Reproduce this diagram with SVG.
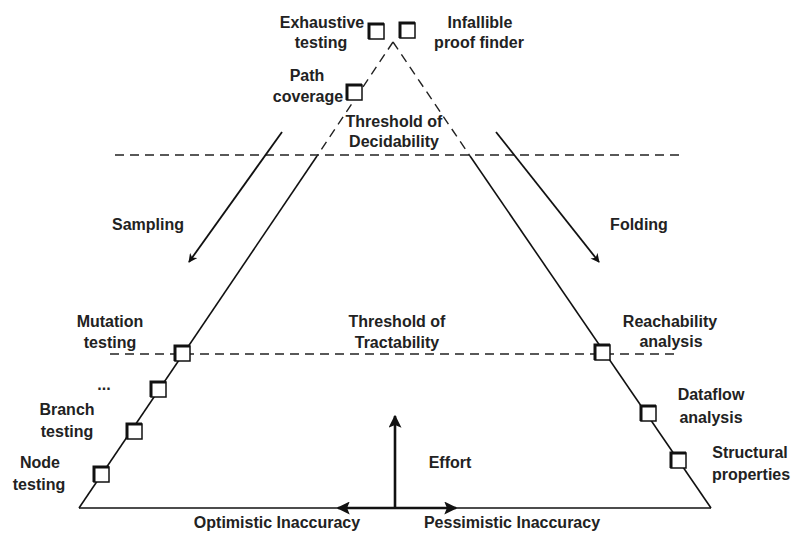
<svg xmlns="http://www.w3.org/2000/svg" width="791" height="536" viewBox="0 0 791 536">
<style>
text{font-family:"Liberation Sans",Arial,sans-serif;font-size:16px;font-weight:bold;fill:#222;text-anchor:middle}
.ln{stroke:#111;stroke-width:1.6;fill:none}
.ds{stroke:#222;stroke-width:1.4;fill:none;stroke-dasharray:9 6}
.bx{fill:#fff;stroke:#111;stroke-width:1.5}
.bt{fill:none;stroke:#111;stroke-width:3}
.ar{stroke:#111;stroke-width:1.8;fill:none}
.th{stroke:#111;stroke-width:2.6;fill:none}
</style>
<defs>
<marker id="ah" viewBox="0 0 10 10" refX="9" refY="5" markerWidth="9" markerHeight="9" markerUnits="userSpaceOnUse" orient="auto">
<path d="M0,0 L10,5 L0,10 L3,5 Z" fill="#111"/>
</marker>
<marker id="ah2" viewBox="0 0 10 10" refX="9" refY="5" markerWidth="5" markerHeight="5" orient="auto">
<path d="M0,0 L10,5 L0,10 L2,5 Z" fill="#111"/>
</marker>
<symbol id="sq" viewBox="0 0 18 18" width="18" height="18">
<rect class="bx" x="2" y="2" width="15" height="15"/>
<path class="bt" d="M2,17 V2 H17"/>
</symbol>
</defs>
<rect width="791" height="536" fill="#fff"/>
<g id="connectors">
<path class="ds" d="M393,42 L317,156"/>
<path class="ln" d="M317,156 L79,508"/>
<path class="ds" d="M393,42 L470,156"/>
<path class="ln" d="M470,156 L711,508"/>
<path class="ln" d="M79,508 L711,508"/>
<path class="ds" d="M115,155 L683,155"/>
<path class="ds" d="M110,354 L680,354"/>
<path class="ar" d="M282,132 L189,262" marker-end="url(#ah)"/>
<path class="ar" d="M496,132 L599,262" marker-end="url(#ah)"/>
<path class="th" d="M395,508 L395,416" marker-end="url(#ah2)"/>
<path class="th" d="M395,508 L338,508" marker-end="url(#ah2)"/>
<path class="th" d="M395,508 L456,508" marker-end="url(#ah2)"/>
</g>
<g id="exhaustive"><use href="#sq" x="367" y="22"/><text x="322" y="28">Exhaustive</text><text x="321" y="48">testing</text></g>
<g id="infallible"><use href="#sq" x="398" y="21"/><text x="480" y="28">Infallible</text><text x="479" y="48">proof finder</text></g>
<g id="path-coverage"><use href="#sq" x="345" y="83"/><text x="307" y="81">Path</text><text x="308" y="102">coverage</text></g>
<g id="decidability"><text x="394" y="127">Threshold of</text><text x="394" y="147">Decidability</text></g>
<g id="sampling"><text x="148" y="230">Sampling</text></g>
<g id="folding"><text x="639" y="230">Folding</text></g>
<g id="tractability"><text x="397" y="327">Threshold of</text><text x="397" y="348">Tractability</text></g>
<g id="mutation"><use href="#sq" x="173" y="344"/><text x="110" y="327">Mutation</text><text x="110" y="348">testing</text></g>
<g id="ellipsis"><use href="#sq" x="149" y="380"/><text x="104" y="390">...</text></g>
<g id="branch"><use href="#sq" x="125" y="422"/><text x="67" y="415">Branch</text><text x="67" y="437">testing</text></g>
<g id="node"><use href="#sq" x="92" y="465"/><text x="40" y="468">Node</text><text x="39" y="490">testing</text></g>
<g id="reachability"><use href="#sq" x="593" y="343"/><text x="670" y="327">Reachability</text><text x="671" y="347">analysis</text></g>
<g id="dataflow"><use href="#sq" x="639" y="404"/><text x="711" y="400">Dataflow</text><text x="711" y="423">analysis</text></g>
<g id="structural"><use href="#sq" x="669" y="451"/><text x="750" y="458">Structural</text><text x="751" y="480">properties</text></g>
<g id="effort"><text x="450" y="468">Effort</text></g>
<g id="optimistic"><text x="277" y="528">Optimistic Inaccuracy</text></g>
<g id="pessimistic"><text x="512" y="528">Pessimistic Inaccuracy</text></g>
</svg>
